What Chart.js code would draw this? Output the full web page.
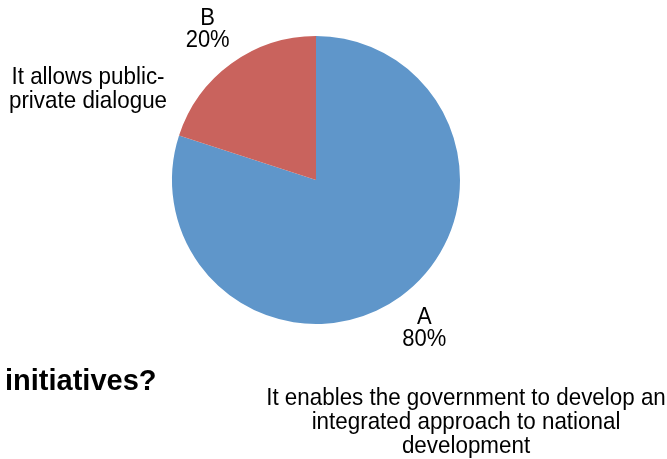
<!DOCTYPE html>
<html lang="en">
<head>
<meta charset="utf-8">
<style>
    html, body { margin: 0; padding: 0; background: #fff; }
    #wrap { width: 667px; height: 459px; }
</style>
</head>
<body>
<div id="wrap">
    <canvas id="myChart" width="667" height="459"></canvas>
</div>

<script src="https://cdn.jsdelivr.net/npm/chart.js@4/dist/chart.umd.min.js"></script>
<script>
    const labels = ['A', 'B']
    const values = [80, 20]
    const colors = ['#5F96CA', '#C9635D']
    const descriptions = [
        ['It enables the government to develop an', 'integrated approach to national', 'development'],
        ['It allows public-', 'private dialogue']
    ]
    const title = 'initiatives?'

    const FONT = '"Liberation Sans", Arial, sans-serif'

    // where each category's description sits (centre x, first baseline)
    const descPos = [
        { x: 466, y: 405 },
        { x: 88, y: 84 }
    ]

    // text in this deck is drawn a little taller than the font's natural shape
    function tallText(ctx, text, x, y) {
        ctx.save()
        ctx.translate(x, y)
        ctx.scale(1, 1.08)
        ctx.fillText(text, 0, 0)
        ctx.restore()
    }

    const sliceLabels = {
        id: 'sliceLabels',
        afterDatasetsDraw(chart) {
            const ctx = chart.ctx
            const meta = chart.getDatasetMeta(0)
            const total = values.reduce((a, b) => a + b, 0)
            ctx.save()
            ctx.fillStyle = '#000'
            ctx.textAlign = 'center'
            ctx.textBaseline = 'middle'
            ctx.font = '22px ' + FONT
            meta.data.forEach(function (arc, i) {
                const mid = (arc.startAngle + arc.endAngle) / 2
                const r = arc.outerRadius * 1.28
                const x = arc.x + Math.cos(mid) * r
                const y = arc.y + Math.sin(mid) * r
                tallText(ctx, labels[i], x, y - 12)
                tallText(ctx, Math.round(values[i] / total * 100) + '%', x, y + 10)
            })

            ctx.textBaseline = 'alphabetic'
            ctx.font = '22.4px ' + FONT
            descriptions.forEach(function (lines, i) {
                lines.forEach(function (line, j) {
                    tallText(ctx, line, descPos[i].x, descPos[i].y + j * 24)
                })
            })

            ctx.textAlign = 'left'
            ctx.font = 'bold 29px ' + FONT
            ctx.fillText(title, 5, 390)
            ctx.restore()
        }
    }

    const ctx = document.getElementById('myChart')
    let chart = new Chart(ctx, {
        type: 'pie',
        data: {
            labels: labels,
            datasets: [{
                data: values,
                backgroundColor: colors,
                borderWidth: 0
            }]
        },
        options: {
            responsive: false,
            animation: false,
            layout: {
                padding: { top: 36, bottom: 135, left: 172, right: 207 }
            },
            plugins: {
                legend: { display: false },
                tooltip: { enabled: false }
            }
        },
        plugins: [sliceLabels]
    })
</script>
</body>
</html>
